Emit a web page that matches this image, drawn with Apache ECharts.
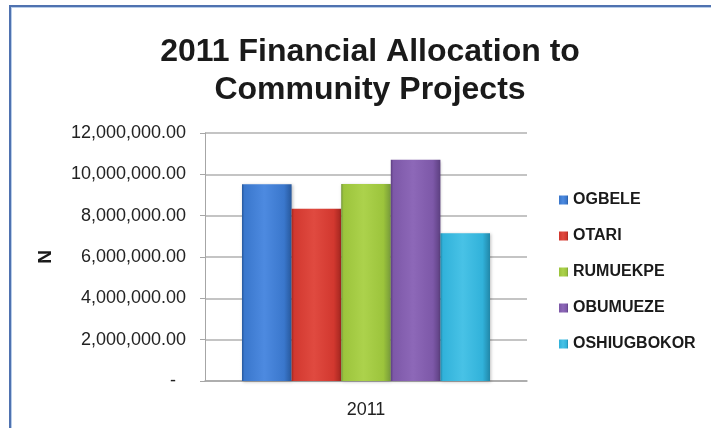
<!DOCTYPE html>
<html>
<head>
<meta charset="utf-8">
<script src="https://cdn.jsdelivr.net/npm/echarts@6/dist/echarts.min.js"></script>
<style>
  html, body { margin: 0; padding: 0; background: #ffffff; }
  #chart { position: absolute; left: 0; top: 0; width: 711px; height: 428px; }
  #frame {
    position: absolute; left: 9px; top: 5px; right: -20px; bottom: -20px;
    border-left: 2px solid #4f72b0; border-top: 2px solid #4f72b0;
    box-shadow: inset 1px 1px 0 #b8cde9; pointer-events: none;
  }
</style>
</head>
<body>
<div id="chart"></div>
<div id="frame"></div>
<script>
// Year on the category axis
const categories = ['2011'];
// Community projects, one bar each
const projects = ['OGBELE', 'OTARI', 'RUMUEKPE', 'OBUMUEZE', 'OSHIUGBOKOR'];
// Allocation in Naira per project
const allocations = [9520000, 8330000, 9530000, 10700000, 7150000];
// Base / edge / highlight colours per project
const baseColors = ['#3a77cc', '#d2382f', '#9cc43c', '#7d58a8', '#31b2da'];
const edgeColors = ['#27589c', '#a2261f', '#76993a', '#5c3f80', '#2187a8'];
const lightColors = ['#4d8ae0', '#e04a40', '#acd24c', '#8d68b8', '#48c2e6'];

const FONT = '"Liberation Sans", Arial, sans-serif';

function fmtAxis(v) {
  if (v === 0) return '-  ';
  const s = Math.round(v).toString();
  return s.replace(/\B(?=(\d{3})+(?!\d))/g, ',') + '.00';
}

function barFill(i) {
  return {
    type: 'linear', x: 0, y: 0, x2: 1, y2: 0,
    colorStops: [
      { offset: 0, color: edgeColors[i] },
      { offset: 0.05, color: baseColors[i] },
      { offset: 0.45, color: lightColors[i] },
      { offset: 0.85, color: baseColors[i] },
      { offset: 1, color: edgeColors[i] }
    ]
  };
}

const series = projects.map((name, i) => ({
  name: name,
  type: 'bar',
  data: [allocations[i]],
  barWidth: 49.6,
  barGap: '0%',
  itemStyle: {
    color: barFill(i),
    shadowColor: 'rgba(0,0,0,0.25)',
    shadowBlur: 3,
    shadowOffsetX: 1,
    shadowOffsetY: 1
  }
}));

const chart = echarts.init(document.getElementById('chart'), null, { renderer: 'canvas' });
chart.setOption({
  animation: false,
  backgroundColor: '#ffffff',
  color: baseColors,
  title: {
    text: '2011 Financial Allocation to\nCommunity Projects',
    left: 365,
    top: 28,
    textAlign: 'center',
    textStyle: {
      fontFamily: FONT, fontSize: 32, fontWeight: 'bold',
      color: '#1a1a1a', lineHeight: 38
    }
  },
  legend: {
    orient: 'vertical',
    left: 554,
    top: 187,
    itemWidth: 9,
    itemHeight: 9,
    itemGap: 20,
    icon: 'rect',
    data: projects,
    textStyle: {
      fontFamily: FONT, fontSize: 16, fontWeight: 'bold',
      color: '#1a1a1a', lineHeight: 16
    }
  },
  grid: { left: 205, right: 184, top: 133, bottom: 47, containLabel: false },
  xAxis: {
    type: 'category',
    data: categories,
    axisLine: { lineStyle: { color: '#a6a6a6', width: 1.5 } },
    axisTick: { show: false },
    axisLabel: { fontFamily: FONT, fontSize: 18, color: '#222', margin: 20 }
  },
  yAxis: {
    type: 'value',
    min: 0,
    max: 12000000,
    interval: 2000000,
    name: 'N',
    nameLocation: 'middle',
    nameGap: 150,
    nameRotate: 90,
    nameTextStyle: { fontFamily: FONT, fontSize: 19, fontWeight: 'bold', color: '#1a1a1a' },
    axisLine: { show: true, lineStyle: { color: '#a6a6a6', width: 1 } },
    axisTick: { show: true, length: 5, lineStyle: { color: '#a6a6a6' } },
    splitLine: { lineStyle: { color: '#b0b0b0', width: 1.5 } },
    axisLabel: { fontFamily: FONT, fontSize: 18, color: '#222', margin: 19, formatter: fmtAxis }
  },
  series: series
});
</script>
</body>
</html>
